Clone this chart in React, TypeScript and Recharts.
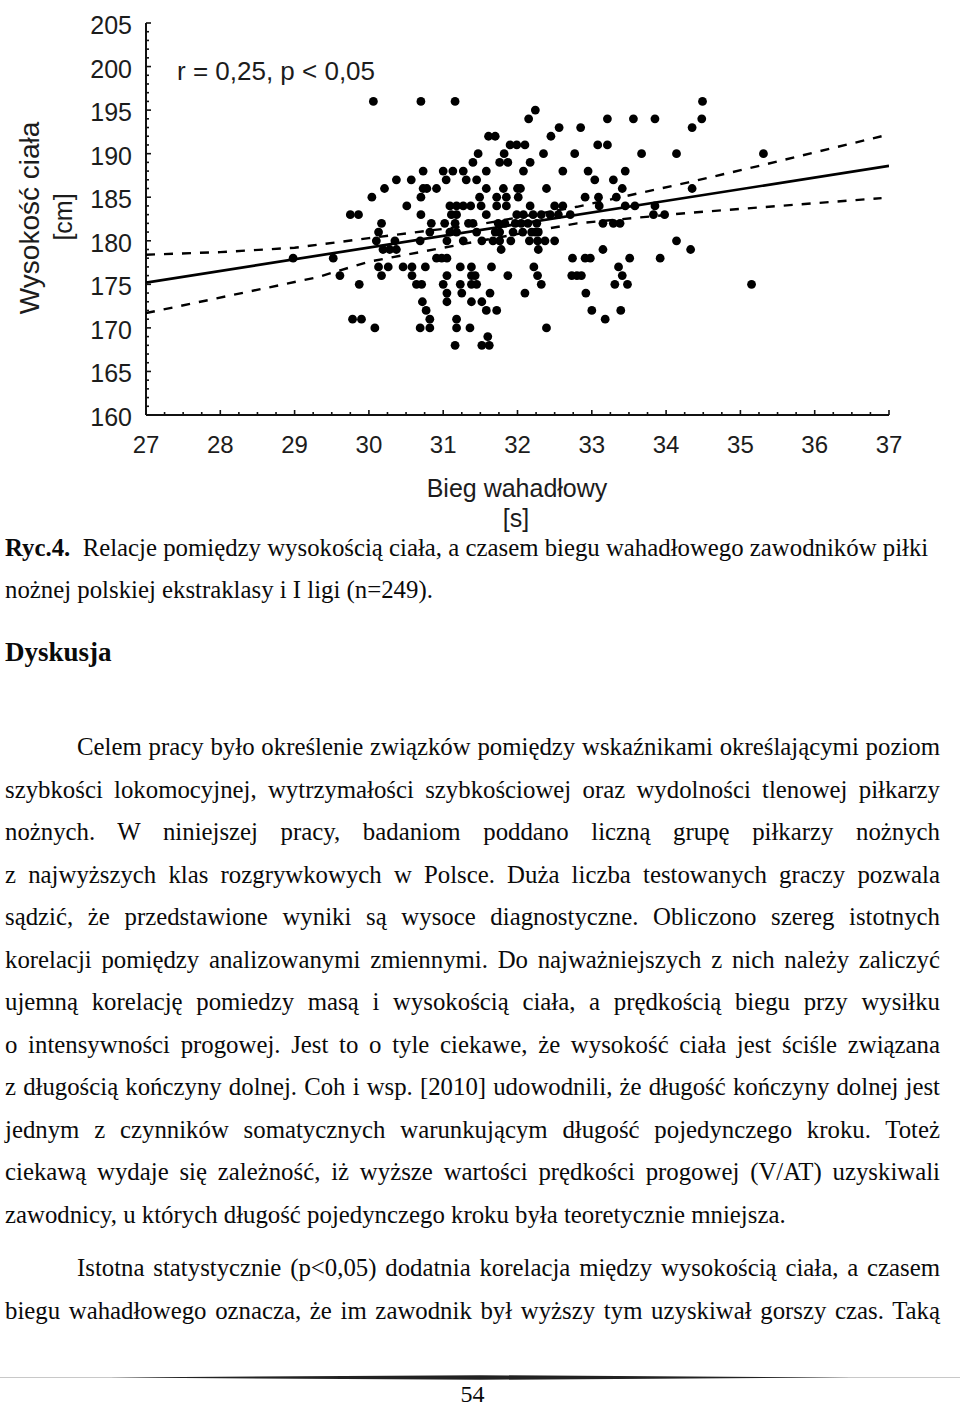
import React from 'react';
import { ScatterChart, Scatter, XAxis, YAxis } from 'recharts';

// [bieg wahadłowy (s), wysokość ciała (cm)]
const players: [number, number][] = [
  [30.06, 196], [30.7, 196], [31.16, 196], [34.49, 196],
  [32.24, 195],
  [32.15, 194], [33.21, 194], [33.56, 194], [33.85, 194], [34.48, 194],
  [32.56, 193], [32.85, 193], [34.35, 193],
  [31.61, 192], [31.7, 192], [32.45, 192],
  [31.9, 191], [31.99, 191], [32.1, 191], [33.08, 191], [33.21, 191],
  [31.47, 190], [31.82, 190], [32.35, 190], [32.77, 190], [33.67, 190], [34.14, 190], [35.31, 190],
  [31.4, 189], [31.76, 189], [31.87, 189], [32.17, 189],
  [30.73, 188], [31.0, 188], [31.13, 188], [31.27, 188], [31.58, 188], [32.08, 188], [32.61, 188], [32.95, 188], [33.45, 188],
  [30.37, 187], [30.57, 187], [31.04, 187], [31.31, 187], [31.45, 187], [33.04, 187], [33.29, 187],
  [30.21, 186], [30.73, 186], [30.78, 186], [30.91, 186], [31.58, 186], [31.81, 186], [32.0, 186], [32.04, 186], [32.39, 186], [33.41, 186], [34.35, 186],
  [30.04, 185], [30.7, 185], [31.49, 185], [31.72, 185], [31.85, 185], [32.01, 185], [32.91, 185], [33.09, 185], [33.33, 185],
  [30.51, 184], [31.09, 184], [31.18, 184], [31.27, 184], [31.37, 184], [31.51, 184], [31.72, 184], [31.85, 184], [32.17, 184], [32.5, 184], [32.61, 184], [33.1, 184], [33.45, 184], [33.58, 184], [33.85, 184],
  [29.75, 183], [29.86, 183], [30.7, 183], [31.11, 183], [31.18, 183], [31.58, 183], [31.99, 183], [32.08, 183], [32.21, 183], [32.32, 183], [32.44, 183], [32.55, 183], [32.71, 183], [33.83, 183], [33.98, 183],
  [30.17, 182], [30.84, 182], [31.02, 182], [31.16, 182], [31.34, 182], [31.4, 182], [31.74, 182], [31.83, 182], [31.97, 182], [32.05, 182], [32.14, 182], [32.26, 182], [33.15, 182], [33.29, 182], [33.38, 182],
  [30.13, 181], [30.82, 181], [31.09, 181], [31.18, 181], [31.45, 181], [31.7, 181], [31.76, 181], [31.94, 181], [32.07, 181], [32.19, 181], [32.24, 181], [32.28, 181],
  [30.1, 180], [30.35, 180], [30.69, 180], [31.05, 180], [31.27, 180], [31.52, 180], [31.67, 180], [31.76, 180], [31.91, 180], [32.16, 180], [32.27, 180], [32.37, 180], [32.5, 180], [34.14, 180],
  [30.19, 179], [30.28, 179], [30.37, 179], [31.78, 179], [32.28, 179], [33.15, 179], [34.33, 179],
  [28.98, 178], [29.52, 178], [30.91, 178], [30.98, 178], [31.05, 178], [32.74, 178], [32.91, 178], [32.98, 178], [33.51, 178], [33.92, 178],
  [30.13, 177], [30.26, 177], [30.46, 177], [30.58, 177], [30.76, 177], [31.23, 177], [31.38, 177], [31.65, 177], [32.22, 177], [33.36, 177],
  [29.61, 176], [30.17, 176], [30.58, 176], [31.05, 176], [31.38, 176], [31.43, 176], [31.87, 176], [32.27, 176], [32.73, 176], [32.8, 176], [32.86, 176], [33.41, 176],
  [29.87, 175], [30.64, 175], [30.71, 175], [31.0, 175], [31.23, 175], [31.38, 175], [31.45, 175], [32.32, 175], [33.31, 175], [33.48, 175], [35.15, 175],
  [31.05, 174], [31.25, 174], [31.63, 174], [32.1, 174], [32.92, 174],
  [30.72, 173], [31.05, 173], [31.38, 173], [31.52, 173],
  [30.77, 172], [31.58, 172], [31.72, 172], [33.0, 172], [33.39, 172],
  [29.78, 171], [29.9, 171], [30.82, 171], [31.18, 171], [33.18, 171],
  [30.08, 170], [30.69, 170], [30.82, 170], [31.18, 170], [31.36, 170], [32.39, 170],
  [31.6, 169],
  [31.16, 168], [31.52, 168], [31.62, 168],
];

// regression line and its confidence band
const fitLine: [number, number][] = [[27, 175.2], [37, 188.6]];
const upperBand: [number, number][] = [
  [27, 178.4], [28, 178.7], [29, 179.2], [30, 180.3], [31.5, 181.9], [32.8, 183.9], [34.3, 186.7], [35.3, 188.7], [36.9, 192.0],
];
const lowerBand: [number, number][] = [
  [27, 171.7], [27.73, 173.0], [29.3, 175.8], [30, 177.6], [31.5, 180.0], [32.8, 182.0], [34.3, 183.2], [36.9, 184.9],
];

const xTickValues = Array.from({ length: 41 }, (_, i) => 27 + i * 0.25);
const yTickValues = Array.from({ length: 46 }, (_, i) => 160 + i);

const chartNote = 'r = 0,25, p < 0,05';
const yTitle = 'Wysokość ciała';
const yUnit = '[cm]';
const xTitle = 'Bieg wahadłowy';
const xUnit = '[s]';

const captionBold = 'Ryc.4.';
const captionRest = '\u00a0 Relacje pomiędzy wysokością ciała, a czasem biegu wahadłowego zawodników piłki';
const captionLine2 = 'nożnej polskiej ekstraklasy i I ligi (n=249).';
const heading = 'Dyskusja';
const paragraph1 = [
  'Celem pracy było określenie związków pomiędzy wskaźnikami określającymi poziom',
  'szybkości lokomocyjnej, wytrzymałości szybkościowej oraz wydolności tlenowej piłkarzy',
  'nożnych. W niniejszej pracy, badaniom poddano liczną grupę piłkarzy nożnych',
  'z najwyższych klas rozgrywkowych w Polsce. Duża liczba testowanych graczy pozwala',
  'sądzić, że przedstawione wyniki są wysoce diagnostyczne. Obliczono szereg istotnych',
  'korelacji pomiędzy analizowanymi zmiennymi. Do najważniejszych z nich należy zaliczyć',
  'ujemną korelację pomiedzy masą i wysokością ciała, a prędkością biegu przy wysiłku',
  'o intensywności progowej. Jest to o tyle ciekawe, że wysokość ciała jest ściśle związana',
  'z długością kończyny dolnej. Coh i wsp. [2010] udowodnili, że długość kończyny dolnej jest',
  'jednym z czynników somatycznych warunkującym długość pojedynczego kroku. Toteż',
  'ciekawą wydaje się zależność, iż wyższe wartości prędkości progowej (V/AT) uzyskiwali',
  'zawodnicy, u których długość pojedynczego kroku była teoretycznie mniejsza.',
];
const paragraph2 = [
  'Istotna statystycznie (p<0,05) dodatnia korelacja między wysokością ciała, a czasem',
  'biegu wahadłowego oznacza, że im zawodnik był wyższy tym uzyskiwał gorszy czas. Taką',
];
const pageNumber = '54';

const sans = '"Liberation Sans", Arial, sans-serif';
const serif = '"Liberation Serif", "Times New Roman", serif';
const axisColor = '#111';
const labelColor = '#1c1c1c';
const BODY_SIZE = 24.8;

const toPoints = (arr: [number, number][]) => arr.map(([t, h]) => ({ t, h }));

const XTick = (props: any) => {
  const { x, y, payload } = props;
  const v = payload.value;
  const major = Math.abs(v - Math.round(v)) < 1e-6;
  return (
    <g>
      <line x1={x} x2={x} y1={y} y2={y - (major ? 5 : 3)} stroke={axisColor} strokeWidth={1.6} />
      {major && (
        <text x={x} y={y + 38} textAnchor="middle" fontSize={24} fontFamily={sans} fill={labelColor}>
          {Math.round(v)}
        </text>
      )}
    </g>
  );
};

const YTick = (props: any) => {
  const { x, y, payload } = props;
  const v = payload.value;
  const major = v % 5 === 0;
  return (
    <g>
      <line x1={x} x2={x + (major ? 5 : 3)} y1={y} y2={y} stroke={axisColor} strokeWidth={1.6} />
      {major && (
        <text x={x - 14} y={y + 11} textAnchor="end" fontSize={25} fontFamily={sans} fill={labelColor}>
          {v}
        </text>
      )}
    </g>
  );
};

const Dot = (props: any) => <circle cx={props.cx} cy={props.cy} r={4.4} fill="#000" />;
const NoShape = () => <g />;

const LINE_H = 43;
const textTop = (baseline: number, size: number) => baseline - (LINE_H - size * 1.107) / 2 - size * 0.891;

const BodyLine = ({ baseline, text, justify, indent = 0 }: { baseline: number; text: React.ReactNode; justify?: boolean; indent?: number }) => (
  <div
    style={{
      position: 'absolute',
      left: 5 + indent,
      width: 935 - indent,
      top: textTop(baseline, BODY_SIZE),
      fontFamily: serif,
      fontSize: BODY_SIZE,
      lineHeight: `${LINE_H}px`,
      color: '#0a0a0a',
      whiteSpace: 'nowrap',
      textAlign: justify ? 'justify' : 'left',
      textAlignLast: justify ? 'justify' : 'left',
    } as React.CSSProperties}
  >
    {text}
  </div>
);

export default function App() {
  const p1Base = 755;
  const step = 42.5;
  return (
    <div style={{ position: 'absolute', left: 0, top: 0, width: 960, height: 1408, background: '#fff', overflow: 'hidden' }}>
      <div style={{ position: 'absolute', left: 0, top: 0 }}>
        <ScatterChart width={960} height={540} margin={{ top: 23, right: 71, bottom: 0, left: 0 }}>
          <XAxis
            type="number"
            dataKey="t"
            domain={[27, 37]}
            ticks={xTickValues}
            interval={0}
            tickSize={0}
            tickMargin={0}
            tickLine={false}
            tick={<XTick />}
            height={125}
            axisLine={{ stroke: axisColor, strokeWidth: 2 }}
            allowDataOverflow
          />
          <YAxis
            type="number"
            dataKey="h"
            domain={[160, 205]}
            ticks={yTickValues}
            interval={0}
            tickSize={0}
            tickMargin={0}
            tickLine={false}
            tick={<YTick />}
            width={146}
            axisLine={{ stroke: axisColor, strokeWidth: 2 }}
            allowDataOverflow
          />
          <Scatter data={toPoints(players)} shape={Dot} isAnimationActive={false} />
          <Scatter
            data={toPoints(upperBand)}
            shape={NoShape}
            line={{ stroke: '#000', strokeWidth: 2.4, strokeDasharray: '9 9' }}
            isAnimationActive={false}
          />
          <Scatter
            data={toPoints(lowerBand)}
            shape={NoShape}
            line={{ stroke: '#000', strokeWidth: 2.4, strokeDasharray: '9 9' }}
            isAnimationActive={false}
          />
          <Scatter
            data={toPoints(fitLine)}
            shape={NoShape}
            line={{ stroke: '#000', strokeWidth: 2.7 }}
            isAnimationActive={false}
          />
        </ScatterChart>
      </div>

      {/* chart texts */}
      <div style={{ position: 'absolute', left: 177, top: 80 - 24, fontFamily: sans, fontSize: 26, lineHeight: '30px', color: labelColor, whiteSpace: 'nowrap' }}>
        {chartNote}
      </div>
      <div style={{ position: 'absolute', left: 30, top: 218, width: 0, height: 0 }}>
        <div style={{ position: 'absolute', left: 0, top: 0, transform: 'translate(-50%, -50%) rotate(-90deg)', fontFamily: sans, fontSize: 28, lineHeight: '32px', color: labelColor, whiteSpace: 'nowrap' }}>
          {yTitle}
        </div>
      </div>
      <div style={{ position: 'absolute', left: 63, top: 217, width: 0, height: 0 }}>
        <div style={{ position: 'absolute', left: 0, top: 0, transform: 'translate(-50%, -50%) rotate(-90deg)', fontFamily: sans, fontSize: 25, lineHeight: '28px', color: labelColor, whiteSpace: 'nowrap' }}>
          {yUnit}
        </div>
      </div>
      <div style={{ position: 'absolute', left: 517, top: 488, width: 0, height: 0 }}>
        <div style={{ position: 'absolute', left: 0, top: 0, transform: 'translate(-50%, -50%)', fontFamily: sans, fontSize: 25, lineHeight: '30px', color: labelColor, whiteSpace: 'nowrap' }}>
          {xTitle}
        </div>
      </div>
      <div style={{ position: 'absolute', left: 516, top: 518, width: 0, height: 0 }}>
        <div style={{ position: 'absolute', left: 0, top: 0, transform: 'translate(-50%, -50%)', fontFamily: sans, fontSize: 25, lineHeight: '30px', color: labelColor, whiteSpace: 'nowrap' }}>
          {xUnit}
        </div>
      </div>

      {/* caption */}
      <BodyLine baseline={556} text={<><b>{captionBold}</b>{captionRest}</>} />
      <BodyLine baseline={598} text={captionLine2} />
      <div
        style={{
          position: 'absolute', left: 5, top: textTop(662, 27), fontFamily: serif, fontSize: 27, fontWeight: 'bold', lineHeight: `${LINE_H}px`, color: '#0a0a0a', whiteSpace: 'nowrap',
        }}
      >
        {heading}
      </div>

      {paragraph1.map((line, i) => (
        <BodyLine
          key={'p1' + i}
          baseline={p1Base + i * step}
          text={line}
          justify={i < paragraph1.length - 1}
          indent={i === 0 ? 72 : 0}
        />
      ))}
      {paragraph2.map((line, i) => (
        <BodyLine key={'p2' + i} baseline={1276 + i * step} text={line} justify indent={i === 0 ? 72 : 0} />
      ))}

      {/* footer rule and page number */}
      <svg style={{ position: 'absolute', left: 0, top: 1370 }} width={960} height={16}>
        <line x1={0} x2={960} y1={7.5} y2={7.5} stroke="#c8c8c8" strokeWidth={1} />
        <polygon points="110,7.5 480,5.2 850,7.5 480,9.8" fill="#222" />
      </svg>
      <div style={{ position: 'absolute', left: 0, width: 945, top: textTop(1403, 24), textAlign: 'center', fontFamily: serif, fontSize: 24, lineHeight: `${LINE_H}px`, color: '#0a0a0a' }}>
        {pageNumber}
      </div>
    </div>
  );
}
